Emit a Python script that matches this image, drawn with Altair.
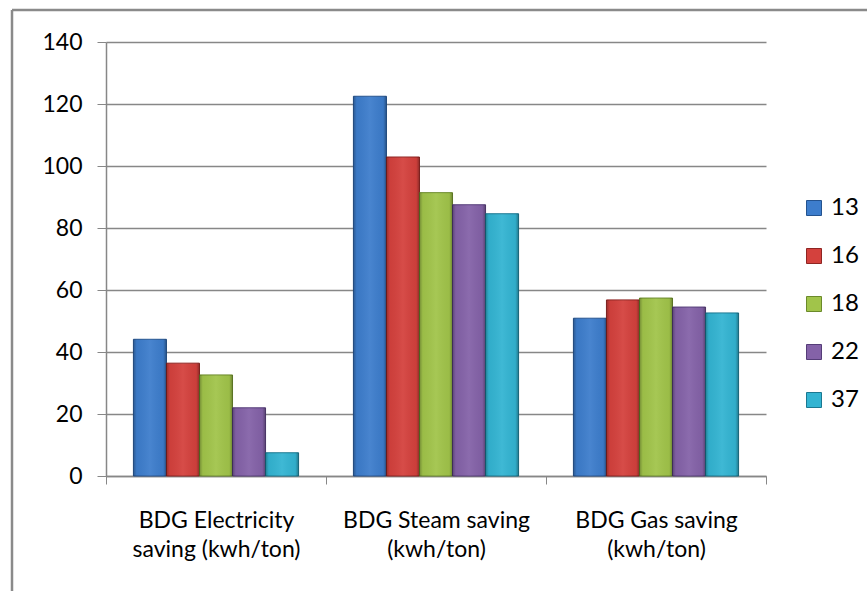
import altair as alt
import pandas as pd

categories = ["BDG Electricity\nsaving (kwh/ton)", "BDG Steam saving\n(kwh/ton)", "BDG Gas saving\n(kwh/ton)"]
series = ["13", "16", "18", "22", "37"]
v13 = [44.1, 122.5, 50.9]
v16 = [36.4, 102.9, 56.8]
v18 = [32.6, 91.4, 57.4]
v22 = [22.0, 87.5, 54.5]
v37 = [7.5, 84.6, 52.6]
y_ticks = [0, 20, 40, 60, 80, 100, 120, 140]

fills = ["#3d7dcc", "#d4413d", "#a1c44a", "#8462a8", "#33b4d2"]
edges = ["#24538f", "#8f2522", "#6b8a2a", "#553d78", "#1b7891"]

rows = []
for s, vals in zip(series, [v13, v16, v18, v22, v37]):
    for c, v in zip(categories, vals):
        rows.append({"category": c, "series": s, "value": v})
df = pd.DataFrame(rows)

FONT = "Lato"
GRID = "#878787"

x_enc = alt.X("category:N", sort=categories, title=None,
              scale=alt.Scale(paddingInner=0, paddingOuter=0),
              axis=alt.Axis(labelAngle=0, tickBand="extent", tickSize=8, tickColor=GRID,
                            domainColor=GRID, domainWidth=1.5, labelFontSize=23, labelFont=FONT,
                            labelColor="#000000", labelPadding=25, labelBaseline="top",
                            labelLineHeight=29, labelLimit=400,
                            labelExpr="split(datum.label, '\\n')"))
xo_enc = alt.XOffset("series:N", sort=series, scale=alt.Scale(paddingInner=0, paddingOuter=0.83))
y_enc = alt.Y("value:Q", title=None, scale=alt.Scale(domain=[0, 140], nice=False),
              axis=alt.Axis(values=y_ticks, tickSize=9, tickColor=GRID, domainColor=GRID, domainWidth=1.5,
                            grid=True, gridColor=GRID, gridWidth=1.5, labelFontSize=23, labelFont=FONT,
                            labelColor="#000000", labelPadding=15))

bars = alt.Chart(df).mark_bar(strokeWidth=1).encode(
    x=x_enc, xOffset=xo_enc, y=y_enc,
    color=alt.Color("series:N", sort=series, scale=alt.Scale(domain=series, range=fills),
                    legend=alt.Legend(title=None, orient="none", legendX=696, legendY=154,
                                      symbolType="square", symbolSize=225, symbolStrokeWidth=1,
                                      labelFontSize=24, labelFont=FONT, labelColor="#000000",
                                      rowPadding=24, labelOffset=5)),
    stroke=alt.Stroke("series:N", sort=series, scale=alt.Scale(domain=series, range=edges), legend=None),
)

shade = alt.Chart(df).mark_bar(
    color=alt.Gradient(gradient="linear", x1=0, x2=1, y1=0, y2=0, stops=[
        alt.GradientStop(color="rgba(0,0,0,0.28)", offset=0),
        alt.GradientStop(color="rgba(0,0,0,0.04)", offset=0.1),
        alt.GradientStop(color="rgba(255,255,255,0.06)", offset=0.5),
        alt.GradientStop(color="rgba(0,0,0,0.04)", offset=0.9),
        alt.GradientStop(color="rgba(0,0,0,0.32)", offset=1),
    ])
).encode(x=x_enc, xOffset=xo_enc, y=y_enc)

frame_df = pd.DataFrame({"k": [0]})
frame_top = alt.Chart(frame_df).mark_rule(color="#8a8a8a", strokeWidth=2.5).encode(
    x=alt.value(-94), x2=alt.value(780), y=alt.value(-32))
frame_left = alt.Chart(frame_df).mark_rule(color="#8a8a8a", strokeWidth=2.5).encode(
    x=alt.value(-94), y=alt.value(-32), y2=alt.value(560))

chart = alt.layer(bars, shade, frame_top, frame_left).properties(
    width=660, height=434,
    autosize=alt.AutoSizeParams(type="none"),
    padding={"left": 106, "top": 42, "right": 101, "bottom": 115},
    background="white",
).configure_view(stroke=None)

chart.save("out.html", embed_options={"renderer": "svg", "actions": False})
